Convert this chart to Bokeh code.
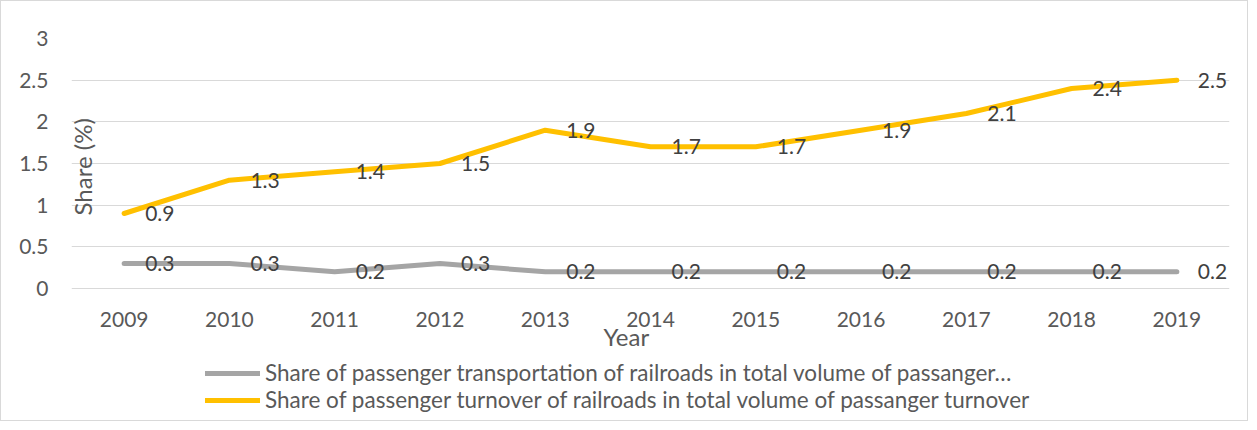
from bokeh.plotting import figure
from bokeh.models import (ColumnDataSource, FactorRange, Range1d, FixedTicker, Legend, LegendItem,
                          LabelSet, Label, InlineStyleSheet)
from bokeh.core.properties import value
from bokeh.embed import file_html
from bokeh.resources import INLINE
import math

years = ["2009", "2010", "2011", "2012", "2013", "2014", "2015", "2016", "2017", "2018", "2019"]
transportation_share = [0.3, 0.3, 0.2, 0.3, 0.2, 0.2, 0.2, 0.2, 0.2, 0.2, 0.2]
turnover_share = [0.9, 1.3, 1.4, 1.5, 1.9, 1.7, 1.7, 1.9, 2.1, 2.4, 2.5]
series_names = [
    "Share of passenger transportation of railroads in total volume of passanger\u2026",
    "Share of passenger turnover of railroads in total volume of passanger turnover",
]
y_ticks = [0, 0.5, 1, 1.5, 2, 2.5, 3]
y_tick_labels = ["0", "0.5", "1", "1.5", "2", "2.5", "3"]
x_title = "Year"
y_title = "Share (%)"

FONT = "Lato"
GRAY = "#A5A5A5"
GOLD = "#FFC000"
TXT = "#595959"
LBL = "#404040"

# layout (pixels)
PLOT_H = 250          # height of the 0..3 value area
BELOW_H = 132         # space under the zero line (ticks, title, legend)
Y_MAX = 3
Y_MIN = -Y_MAX * BELOW_H / PLOT_H

src = ColumnDataSource(dict(
    year=years,
    trans=transportation_share,
    turn=turnover_share,
    trans_lbl=[f"{v:g}" for v in transportation_share],
    turn_lbl=[f"{v:g}" for v in turnover_share],
))

p = figure(
    x_range=FactorRange(*years, range_padding=0),
    y_range=Range1d(Y_MIN, Y_MAX),
    frame_width=1158, frame_height=PLOT_H + BELOW_H,
    min_border_left=70, min_border_right=18, min_border_top=37, min_border_bottom=0,
    output_backend="svg", toolbar_location=None,
    background_fill_color="white", border_fill_color="white",
    stylesheets=[InlineStyleSheet(css=":host { border: 1px solid #D9D9D9; }")],
)
p.outline_line_color = None
p.xgrid.grid_line_color = None
p.ygrid.grid_line_color = "#D9D9D9"
p.ygrid.grid_line_width = 1

p.yaxis.ticker = FixedTicker(ticks=y_ticks)
p.yaxis.major_label_overrides = {t: l for t, l in zip(y_ticks, y_tick_labels)}
for ax in (p.xaxis[0], p.yaxis[0]):
    ax.axis_line_color = None
    ax.major_tick_line_color = None
    ax.minor_tick_line_color = None
    ax.major_tick_in = 0
    ax.major_tick_out = 0
    ax.major_label_text_font = FONT
    ax.major_label_text_font_size = "21px"
    ax.major_label_text_color = TXT
p.yaxis.major_label_standoff = 23
p.xaxis.fixed_location = 0
p.xaxis.major_label_standoff = 23

r1 = p.line("year", "trans", source=src, line_width=5, line_color=GRAY, line_cap="round", line_join="round")
r2 = p.line("year", "turn", source=src, line_width=5, line_color=GOLD, line_cap="round", line_join="round")

for col, lcol in (("trans", "trans_lbl"), ("turn", "turn_lbl")):
    p.add_layout(LabelSet(x="year", y=col, text=lcol, source=src, x_offset=21, y_offset=0,
                          text_align="left", text_baseline="middle",
                          text_font=value(FONT), text_font_size=value("21px"), text_color=value(LBL)))

p.add_layout(Label(x=0, y=1.46, x_offset=11, text=y_title, angle=math.pi / 2,
                   text_align="center", text_baseline="middle",
                   text_font=FONT, text_font_size="24px", text_color=TXT))
p.add_layout(Label(x=5.27, y=-0.57, text=x_title,
                   text_align="center", text_baseline="middle",
                   text_font=FONT, text_font_size="24px", text_color=TXT))

legend = Legend(
    items=[LegendItem(label=series_names[0], renderers=[r1]),
           LegendItem(label=series_names[1], renderers=[r2])],
    location=(134, 7), orientation="vertical",
    glyph_width=55, glyph_height=26, label_height=26, label_standoff=5,
    padding=0, margin=0, spacing=0,
    border_line_color=None, background_fill_alpha=0,
    label_text_font=FONT, label_text_font_size="22.5px", label_text_color=TXT,
)
p.add_layout(legend, "center")

open("out.html", "w").write(file_html(p, INLINE))
